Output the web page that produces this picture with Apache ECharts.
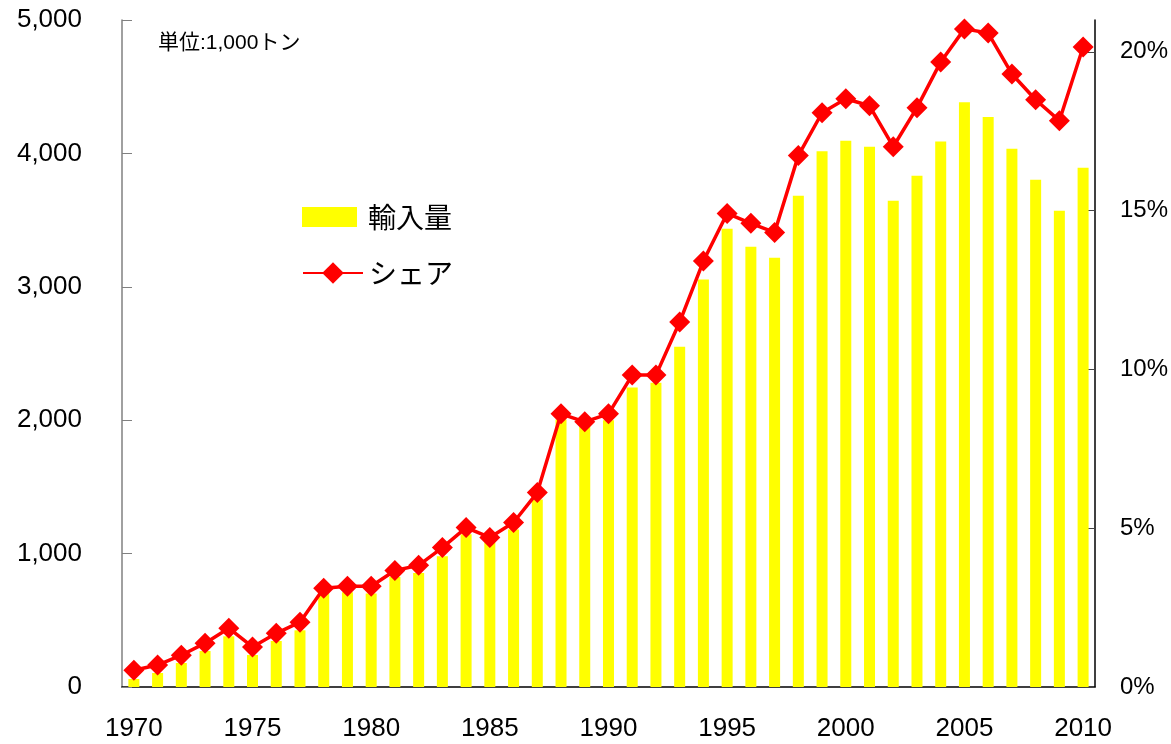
<!DOCTYPE html>
<html>
<head>
<meta charset="utf-8">
<script src="https://cdn.jsdelivr.net/npm/echarts@6/dist/echarts.min.js"></script>
<style>
  html, body { margin: 0; padding: 0; background: #fff; }
  #chart { width: 1171px; height: 744px; }
</style>
</head>
<body>
<div id="chart"></div>
<script>
// years on the x axis
var years = [];
for (var y = 1970; y <= 2010; y++) years.push(String(y));

// 輸入量 (1,000 t)
var imports = [
  60, 105, 180, 270, 380, 240, 345, 425, 715, 710,
  700, 825, 855, 980, 1145, 1085, 1180, 1405, 2005, 1955,
  2000, 2245, 2280, 2550, 3055, 3435, 3300, 3218, 3683, 4017,
  4094, 4049, 3645, 3832, 4090, 4383, 4272, 4034, 3802, 3570,
  3892
];

// シェア (%)
var share = [
  0.53, 0.69, 1.0, 1.38, 1.85, 1.26, 1.69, 2.04, 3.11, 3.17,
  3.17, 3.67, 3.83, 4.39, 5.02, 4.71, 5.18, 6.12, 8.6, 8.35,
  8.6, 9.82, 9.82, 11.49, 13.41, 14.91, 14.6, 14.31, 16.73, 18.08,
  18.52, 18.3, 17.01, 18.24, 19.68, 20.72, 20.59, 19.3, 18.49, 17.83,
  20.15
];

var rightTicks = [0, 5, 10, 15, 20];

var jp = '"Noto Sans CJK JP", sans-serif';
var latin = '"Liberation Sans", Arial, sans-serif';

var chart = echarts.init(document.getElementById('chart'));
chart.setOption({
  animation: false,
  backgroundColor: '#ffffff',
  title: {
    text: '単位:1,000トン',
    left: 153,
    top: 28,
    textStyle: { fontFamily: '"Liberation Sans", "Noto Sans CJK JP", sans-serif', fontSize: 21, fontWeight: 'normal', color: '#000' }
  },
  legend: [
    {
      orient: 'vertical',
      left: 302,
      top: 203,
      padding: 0,
      itemWidth: 55,
      itemHeight: 20,
      textStyle: { fontFamily: jp, fontSize: 28, lineHeight: 28, color: '#000', padding: [0, 0, 0, 6] },
      data: [{ name: '輸入量', icon: 'rect' }]
    },
    {
      orient: 'vertical',
      left: 302,
      top: 259,
      padding: 0,
      itemWidth: 60,
      itemHeight: 27,
      textStyle: { fontFamily: jp, fontSize: 28, lineHeight: 28, color: '#000', padding: [0, 0, 0, 1] },
      data: [{ name: 'シェア' }]
    }
  ],
  grid: { left: 122, right: 73, top: 20, bottom: 57 },
  xAxis: {
    type: 'category',
    data: years,
    axisLine: { lineStyle: { color: '#000', width: 1.5 } },
    axisTick: { interval: 0, inside: true, length: 7, lineStyle: { color: '#444' } },
    axisLabel: {
      interval: 4,
      margin: 29,
      fontFamily: latin,
      fontSize: 26,
      color: '#000'
    }
  },
  yAxis: [
    {
      type: 'value',
      min: 0,
      max: 5000,
      interval: 1000,
      splitLine: { show: false },
      axisLine: { show: true, lineStyle: { color: '#808080', width: 1.5 } },
      axisTick: { show: true, inside: true, length: 10, lineStyle: { color: '#808080' } },
      axisLabel: {
        margin: 40,
        fontFamily: latin,
        fontSize: 26,
        color: '#000',
        formatter: function (v) { return v.toLocaleString('en-US'); }
      }
    },
    {
      type: 'value',
      position: 'right',
      min: 0,
      max: 21,
      interval: 5,
      splitLine: { show: false },
      axisLine: { show: true, lineStyle: { color: '#000', width: 1.5 } },
      axisTick: { show: true, inside: true, length: 10, customValues: rightTicks, lineStyle: { color: '#444' } },
      axisLabel: {
        margin: 25,
        customValues: rightTicks,
        fontFamily: latin,
        fontSize: 24,
        color: '#000',
        formatter: function (v) { return v % 5 === 0 ? v + '%' : ''; }
      }
    }
  ],
  series: [
    {
      name: '輸入量',
      type: 'bar',
      yAxisIndex: 0,
      data: imports,
      barWidth: 11,
      itemStyle: { color: '#ffff00' }
    },
    {
      name: 'シェア',
      type: 'line',
      yAxisIndex: 1,
      data: share,
      symbol: 'diamond',
      symbolSize: 21,
      showAllSymbol: true,
      lineStyle: { color: '#ff0000', width: 3.5 },
      itemStyle: { color: '#ff0000' },
      z: 5
    }
  ]
});
</script>
</body>
</html>
